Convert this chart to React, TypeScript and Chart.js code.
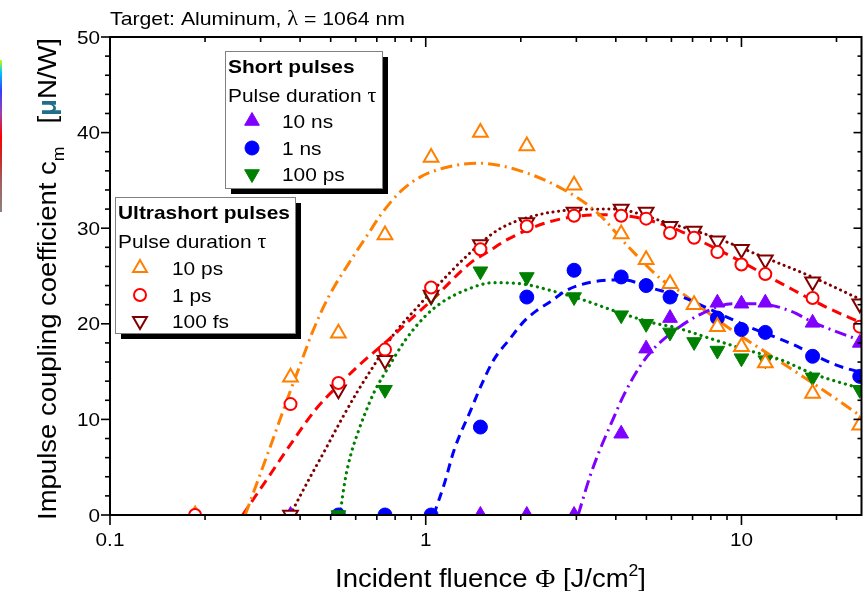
import React, { useEffect, useRef } from 'react';
import { Chart, registerables } from 'chart.js';

Chart.register(...registerables);

// ---------- data ----------
const fluence = [0.186, 0.373, 0.529, 0.743, 1.04, 1.49, 2.09, 2.95, 4.16, 4.99, 5.94, 7.08, 8.39, 10.0, 11.9, 16.8, 23.7];

const cm10ns = [null, 0, null, null, null, 0, 0, 0, 8.5, 17.4, 20.6, null, 22.2, 22.1, 22.2, 20.1, 18.0];
const cm1ns = [null, null, 0, 0, 0, 9.2, 22.8, 25.6, 24.9, 24.0, 22.8, null, 20.6, 19.4, 19.1, 16.6, 14.5];
const cm100ps = [null, null, 0, 13.1, 22.8, 25.5, 24.9, 22.8, 20.9, 20.0, 19.1, 18.1, 17.2, 16.4, 16.2, 14.4, 13.1];
const cm10ps = [0, 14.4, 19.0, 29.3, 37.4, 40.0, 38.6, 34.5, 29.4, 26.7, 24.2, 22.0, 19.7, 17.6, 15.9, 12.7, 9.4];
const cm1ps = [0, 11.6, 13.8, 17.3, 23.8, 27.8, 30.2, 31.3, 31.3, 31.0, 29.5, 29.0, 27.5, 26.2, 25.2, 22.7, 19.7];
const cm100fs = [null, 0, 13.1, 16.2, 23.0, 28.3, 30.6, 31.7, 32.0, 31.7, 30.2, 29.7, 28.7, 27.8, 26.7, 24.4, 22.1];

// fitted curves
const fit10nsX = [3.04, 3.31, 3.56, 3.87, 4.22, 4.76, 5.24, 6.2, 7.52, 9.35, 11.3, 14.4, 16.75, 24];
const fit10nsY = [0, 4.0, 6.8, 9.6, 12.4, 15.5, 17.3, 19.4, 21.1, 22.1, 22.1, 21.3, 20.2, 18.2];
const fit1nsX = [1.06, 1.146, 1.23, 1.39, 1.51, 1.64, 1.855, 2.04, 2.25, 2.48, 2.79, 3.56, 4.2, 5.24, 6.5, 8.09, 10.5, 14.2, 19.9, 24];
const fit1nsY = [0, 3.3, 6.8, 11.0, 13.8, 16.2, 18.5, 20.2, 21.4, 22.3, 23.5, 24.5, 24.6, 23.7, 22.8, 21.4, 19.7, 18.0, 15.7, 14.9];
const fit100psX = [0.535, 0.555, 0.58, 0.611, 0.642, 0.69, 0.76, 0.858, 0.99, 1.12, 1.356, 1.64, 1.995, 2.54, 3.15, 4.0, 5.24, 6.2, 7.9, 10.05, 13.4, 16.75, 24];
const fit100psY = [0, 3.6, 6.4, 8.7, 10.6, 13.0, 15.4, 18.2, 20.7, 22.2, 23.6, 24.3, 24.2, 23.4, 22.5, 21.3, 20.1, 19.6, 18.5, 17.4, 16.2, 14.8, 13.2];
const fit10psX = [0.268, 0.319, 0.368, 0.416, 0.436, 0.492, 0.57, 0.657, 0.724, 0.836, 0.966, 1.14, 1.32, 1.46, 1.95, 2.75, 3.5, 4.43, 5.6, 6.3, 9.0, 12.5, 17.9, 24];
const fit10psY = [0, 6.8, 12.5, 17.2, 19.0, 22.8, 26.3, 29.4, 31.5, 33.9, 35.4, 36.3, 36.7, 36.8, 36.1, 34.0, 31.6, 27.9, 24.6, 23.5, 19.7, 16.6, 13.2, 10.3];
const fit1psX = [0.263, 0.318, 0.377, 0.447, 0.53, 0.626, 0.76, 0.94, 1.04, 1.39, 1.57, 1.81, 2.48, 3.56, 4.53, 5.5, 6.5, 7.7, 9.35, 13.4, 18.4, 24];
const fit1psY = [0, 4.0, 7.6, 11.0, 13.6, 15.9, 18.3, 21.1, 22.4, 26.4, 27.5, 28.8, 30.7, 31.4, 31.2, 30.5, 29.6, 28.4, 27.0, 24.2, 21.8, 20.1];
const fit100fsX = [0.372, 0.4245, 0.48, 0.541, 0.61, 0.69, 0.78, 0.944, 1.09, 1.33, 1.69, 2.15, 2.88, 3.94, 5.65, 8.12, 11.7, 16.75, 24];
const fit100fsY = [0, 3.6, 6.8, 10.0, 13.0, 15.8, 18.6, 21.8, 24.0, 26.9, 29.8, 31.2, 31.9, 32.0, 30.7, 29.1, 27.0, 24.9, 22.5];

const xTickLabels = ['0.1', '1', '10'];
const xMajor = [0.1, 1, 10];
const xMinor = [0.2, 0.3, 0.4, 0.5, 0.6, 0.7, 0.8, 0.9, 2, 3, 4, 5, 6, 7, 8, 9, 20];
const yTickLabels = ['0', '10', '20', '30', '40', '50'];
const yMajor = [0, 10, 20, 30, 40, 50];
const yMinor = [2, 4, 6, 8, 12, 14, 16, 18, 22, 24, 26, 28, 32, 34, 36, 38, 42, 44, 46, 48];

const shortNames = ['10 ns', '1 ns', '100 ps'];
const ultraNames = ['10 ps', '1 ps', '100 fs'];

// ---------- styles ----------
const SANS = '"Liberation Sans", Arial, sans-serif';
const SERIF = '"Liberation Serif", "DejaVu Serif", serif';
const C = {
  ns10: '#8000ff',
  ns1: '#0000ff',
  ps100: '#008000',
  ps10: '#ff8000',
  ps1: '#ff0000',
  fs100: '#800000',
};

type Kind = 'up' | 'down' | 'circle';

function pts(xs: number[], ys: (number | null)[]) {
  const out: { x: number; y: number }[] = [];
  xs.forEach((x, i) => {
    const y = ys[i];
    if (y !== null && y !== undefined) out.push({ x, y });
  });
  return out;
}

function drawMarker(ctx: CanvasRenderingContext2D, kind: Kind, x: number, y: number, r: number, fill: string, stroke: string, lw: number) {
  ctx.beginPath();
  if (kind === 'circle') {
    ctx.arc(x, y, r, 0, Math.PI * 2);
  } else {
    const rot = kind === 'down' ? Math.PI : 0;
    for (let i = 0; i < 3; i++) {
      const a = rot + (i * 2 * Math.PI) / 3;
      const px = x + Math.sin(a) * r;
      const py = y - Math.cos(a) * r;
      if (i === 0) ctx.moveTo(px, py);
      else ctx.lineTo(px, py);
    }
    ctx.closePath();
  }
  ctx.fillStyle = fill;
  ctx.fill();
  ctx.lineWidth = lw;
  ctx.strokeStyle = stroke;
  ctx.stroke();
}

type Seg = { t: string; f: string; c?: string; dy?: number };

function drawRich(ctx: CanvasRenderingContext2D, segs: Seg[], x: number, y: number, o: { angle?: number; width?: number; sx?: number; align?: string } = {}) {
  ctx.save();
  ctx.textAlign = 'left';
  ctx.textBaseline = 'alphabetic';
  let nat = 0;
  for (const s of segs) {
    ctx.font = s.f;
    nat += ctx.measureText(s.t).width;
  }
  const k = o.width ? o.width / nat : o.sx || 1;
  ctx.translate(x, y);
  if (o.angle) ctx.rotate(o.angle);
  ctx.scale(k, 1);
  let cx = o.align === 'center' ? -nat / 2 : o.align === 'right' ? -nat : 0;
  for (const s of segs) {
    ctx.font = s.f;
    ctx.fillStyle = s.c || '#000';
    ctx.fillText(s.t, cx, s.dy || 0);
    cx += ctx.measureText(s.t).width;
  }
  ctx.restore();
}

const decorPlugin = {
  id: 'decor',
  afterDraw(chart: any) {
    const ctx: CanvasRenderingContext2D = chart.ctx;
    const xs = chart.scales.x;
    const ys = chart.scales.y;
    const L = chart.chartArea.left;
    const R = chart.chartArea.right;
    const T = chart.chartArea.top;
    const B = chart.chartArea.bottom;
    ctx.save();
    // frame
    ctx.strokeStyle = '#000';
    ctx.lineWidth = 2;
    ctx.strokeRect(L, T, R - L, B - T);
    // ticks
    ctx.lineWidth = 1.6;
    const line = (x1: number, y1: number, x2: number, y2: number) => {
      ctx.beginPath();
      ctx.moveTo(x1, y1);
      ctx.lineTo(x2, y2);
      ctx.stroke();
    };
    xMajor.forEach((v) => {
      const p = xs.getPixelForValue(v);
      line(p, B, p, B + 10);
      line(p, T, p, T + 10);
    });
    xMinor.forEach((v) => {
      const p = xs.getPixelForValue(v);
      line(p, B, p, B + 5);
      line(p, T, p, T + 5);
    });
    yMajor.forEach((v) => {
      const p = ys.getPixelForValue(v);
      line(L, p, L - 9, p);
      line(R, p, R - 8, p);
    });
    yMinor.forEach((v) => {
      const p = ys.getPixelForValue(v);
      line(L, p, L - 5, p);
      line(R, p, R - 4, p);
    });
    // tick labels
    xMajor.forEach((v, i) => {
      const p = xs.getPixelForValue(v);
      drawRich(ctx, [{ t: xTickLabels[i], f: `18px ${SANS}` }], p, B + 31, { sx: 1.15, align: 'center' });
    });
    yMajor.forEach((v, i) => {
      const p = ys.getPixelForValue(v);
      drawRich(ctx, [{ t: yTickLabels[i], f: `18px ${SANS}` }], L - 10, p + 6.5, { sx: 1.15, align: 'right' });
    });
    // chart title
    drawRich(
      ctx,
      [
        { t: 'Target: Aluminum, ', f: `19px ${SANS}` },
        { t: 'λ', f: `20px ${SERIF}` },
        { t: ' = 1064 nm', f: `19px ${SANS}` },
      ],
      110,
      25,
      { width: 295 }
    );
    // x title
    drawRich(
      ctx,
      [
        { t: 'Incident fluence ', f: `25px ${SANS}` },
        { t: 'Φ', f: `25px ${SERIF}` },
        { t: ' [J/cm', f: `25px ${SANS}` },
        { t: '2', f: `16px ${SANS}`, dy: -11 },
        { t: ']', f: `25px ${SANS}` },
      ],
      335,
      587,
      { width: 311 }
    );
    // y title
    drawRich(
      ctx,
      [
        { t: 'Impulse coupling coefficient c', f: `25px ${SANS}` },
        { t: 'm', f: `16px ${SANS}`, dy: 8 },
        { t: '   [', f: `25px ${SANS}` },
        { t: 'μ', f: `bold 25px ${SANS}`, c: '#1f6f8b' },
        { t: 'N/W]', f: `25px ${SANS}` },
      ],
      56,
      520,
      { angle: -Math.PI / 2, width: 482 }
    );

    // legend boxes
    const box = (x: number, y: number, w: number, h: number) => {
      ctx.fillStyle = '#000';
      ctx.fillRect(x + 6, y + 6, w, h);
      ctx.fillStyle = '#fff';
      ctx.fillRect(x, y, w, h);
      ctx.strokeStyle = '#808080';
      ctx.lineWidth = 1;
      ctx.strokeRect(x + 0.5, y + 0.5, w, h);
    };
    const LF = `19px ${SANS}`;
    // short pulses
    box(225, 51, 157, 137);
    drawRich(ctx, [{ t: 'Short pulses', f: `bold 19px ${SANS}` }], 228, 73, { sx: 1.1 });
    drawRich(ctx, [{ t: 'Pulse duration ', f: LF }, { t: 'τ', f: `20px ${SERIF}` }], 228, 102, { sx: 1.1 });
    const shortStyles: [Kind, string, number][] = [
      ['up', C.ns10, 121],
      ['circle', C.ns1, 148],
      ['down', C.ps100, 174],
    ];
    shortStyles.forEach(([k, col, yy], i) => {
      drawMarker(ctx, k, 252, yy, k === 'circle' ? 7 : 8.5, col, col, 1);
      drawRich(ctx, [{ t: shortNames[i], f: LF }], 282, yy + 7, { sx: 1.1 });
    });
    // ultrashort pulses
    box(115, 197, 180, 136);
    drawRich(ctx, [{ t: 'Ultrashort pulses', f: `bold 19px ${SANS}` }], 118, 219, { sx: 1.1 });
    drawRich(ctx, [{ t: 'Pulse duration ', f: LF }, { t: 'τ', f: `20px ${SERIF}` }], 118, 248, { sx: 1.1 });
    const ultraStyles: [Kind, string, number][] = [
      ['up', C.ps10, 268],
      ['circle', C.ps1, 295],
      ['down', C.fs100, 321],
    ];
    ultraStyles.forEach(([k, col, yy], i) => {
      drawMarker(ctx, k, 140, yy, k === 'circle' ? 6 : 8, '#fff', col, 2);
      drawRich(ctx, [{ t: ultraNames[i], f: LF }], 172, yy + 7, { sx: 1.1 });
    });
    ctx.restore();
  },
};

function fitDs(xs: number[], ys: number[], color: string, dash: number[], width: number, cap: CanvasLineCap) {
  return {
    data: pts(xs, ys),
    showLine: true,
    borderColor: color,
    backgroundColor: color,
    borderWidth: width,
    borderDash: dash,
    borderCapStyle: cap,
    pointRadius: 0,
    cubicInterpolationMode: 'monotone',
    fill: false,
    order: 10,
  };
}

function ptDs(ys: (number | null)[], color: string, kind: Kind, open: boolean, order: number) {
  const isCircle = kind === 'circle';
  return {
    data: pts(fluence, ys),
    showLine: false,
    pointStyle: isCircle ? 'circle' : 'triangle',
    pointRotation: kind === 'down' ? 180 : 0,
    pointRadius: isCircle ? (open ? 6 : 7) : 8.5,
    pointBackgroundColor: open ? '#ffffff' : color,
    pointBorderColor: color,
    pointBorderWidth: open ? 2 : 1,
    borderColor: color,
    backgroundColor: color,
    order,
  };
}

export default function App() {
  const ref = useRef<HTMLCanvasElement | null>(null);
  useEffect(() => {
    if (!ref.current) return;
    const chart = new Chart(ref.current, {
      type: 'line',
      data: {
        datasets: [
          fitDs(fit10nsX, fit10nsY, C.ns10, [12, 5, 2, 5], 3, 'butt'),
          fitDs(fit1nsX, fit1nsY, C.ns1, [9, 6], 3, 'butt'),
          fitDs(fit100psX, fit100psY, C.ps100, [0.1, 6], 3.2, 'round'),
          fitDs(fit10psX, fit10psY, C.ps10, [12, 5, 2, 5], 3, 'butt'),
          fitDs(fit1psX, fit1psY, C.ps1, [10, 6], 3, 'butt'),
          fitDs(fit100fsX, fit100fsY, C.fs100, [0.1, 5.5], 3, 'round'),
          ptDs(cm10ns, C.ns10, 'up', false, 6),
          ptDs(cm1ns, C.ns1, 'circle', false, 5),
          ptDs(cm100ps, C.ps100, 'down', false, 4),
          ptDs(cm10ps, C.ps10, 'up', true, 3),
          ptDs(cm100fs, C.fs100, 'down', true, 2),
          ptDs(cm1ps, C.ps1, 'circle', true, 1),
        ] as any,
      },
      options: {
        responsive: false,
        animation: false,
        devicePixelRatio: 1,
        events: [],
        layout: { padding: { top: 37, right: 3, left: 0, bottom: 0 } },
        plugins: { legend: { display: false }, tooltip: { enabled: false }, title: { display: false } },
        scales: {
          x: {
            type: 'logarithmic',
            min: 0.1,
            max: 24,
            grid: { display: false, drawTicks: false },
            border: { display: false },
            ticks: { display: false },
            afterFit: (s: any) => {
              s.height = 76;
            },
          },
          y: {
            type: 'linear',
            min: 0,
            max: 50,
            grid: { display: false, drawTicks: false },
            border: { display: false },
            ticks: { display: false },
            afterFit: (s: any) => {
              s.width = 110;
            },
          },
        },
      } as any,
      plugins: [decorPlugin],
    });
    return () => chart.destroy();
  }, []);

  return (
    <div style={{ position: 'absolute', left: 0, top: 0, width: 868, height: 591, overflow: 'hidden', background: '#fff' }}>
      <canvas ref={ref} width={872} height={591} style={{ display: 'block', width: 872, height: 591 }} />
      <div
        style={{
          position: 'absolute',
          left: 0,
          top: 60,
          width: 2,
          height: 152,
          background:
            'linear-gradient(to bottom, #c8ff00 0%, #00c8ff 8%, #3040ff 20%, #a040b0 35%, #ff0000 50%, #d02020 62%, #a06060 80%, #908080 100%)',
        }}
      />
    </div>
  );
}
